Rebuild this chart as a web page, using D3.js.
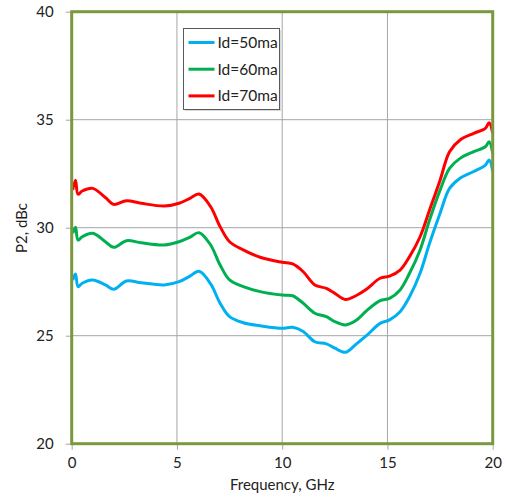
<!DOCTYPE html>
<html>
<head>
<meta charset="utf-8">
<script src="https://cdn.jsdelivr.net/npm/d3@7"></script>
<style>
  body { margin: 0; background: #fff; }
  svg { display: block; font-family: Lato, "Open Sans", sans-serif; }
</style>
</head>
<body>
<main></main>
<script>
"use strict";

// Values
const freq = [0.05, 0.18, 0.3, 0.5, 1.0, 1.6, 2.0, 2.6, 3.3, 4.4, 5.1, 5.6, 6.05, 6.6, 7.05, 7.5, 8.15, 8.95, 10.0, 10.5,
  11.0, 11.55, 12.1, 12.5, 13.0, 13.5, 14.0, 14.65, 15.1, 15.6, 16.05, 16.55, 17.0, 17.5, 17.95, 18.45, 19.1, 19.65, 19.83, 20.0];

const id50 = [27.58, 27.86, 27.27, 27.43, 27.58, 27.35, 27.15, 27.53, 27.45, 27.35, 27.5, 27.75, 27.98, 27.4, 26.5, 25.88, 25.6, 25.46, 25.34, 25.39,
  25.19, 24.72, 24.62, 24.42, 24.23, 24.6, 25.0, 25.57, 25.73, 26.11, 26.8, 27.89, 29.28, 30.67, 31.82, 32.29, 32.6, 32.9, 33.13, 32.6];

const id60 = [29.74, 30.02, 29.43, 29.58, 29.74, 29.35, 29.09, 29.4, 29.3, 29.2, 29.35, 29.55, 29.77, 29.2, 28.27, 27.58, 27.27, 27.04, 26.88, 26.85,
  26.5, 26.04, 25.88, 25.65, 25.5, 25.7, 26.15, 26.62, 26.73, 27.12, 27.89, 28.97, 30.36, 31.74, 32.75, 33.21, 33.52, 33.75, 33.98, 33.44];

const id70 = [31.75, 32.2, 31.55, 31.7, 31.82, 31.4, 31.08, 31.25, 31.13, 31.0, 31.13, 31.35, 31.56, 30.97, 30.05, 29.35, 28.97, 28.63, 28.4, 28.32,
  27.96, 27.35, 27.19, 26.96, 26.68, 26.85, 27.15, 27.66, 27.76, 28.04, 28.66, 29.58, 30.82, 32.2, 33.52, 34.06, 34.37, 34.6, 34.86, 34.37];

const seriesNames = ["Id=50ma", "Id=60ma", "Id=70ma"];
const seriesColors = ["#00B0F0", "#00B050", "#FF0000"];
const xTicks = [0, 5, 10, 15, 20];
const yTicks = [20, 25, 30, 35, 40];

const w = 506;
const h = 503;
const margin = { top: 11.7, right: 13.3, bottom: 59.3, left: 71.7 };
const iw = w - margin.left - margin.right;
const ih = h - margin.top - margin.bottom;

const svg = d3.select("main").append("svg").attr("width", w).attr("height", h);
const g = svg.append("g").attr("transform", `translate(${margin.left}, ${margin.top})`);

const x = d3.scaleLinear().domain([0, 20]).range([0, iw]);
const y = d3.scaleLinear().domain([20, 40]).range([ih, 0]);

//Gridlines
g.append("g")
  .selectAll("line.vx")
  .data(xTicks.slice(1, -1))
  .join("line")
  .attr("x1", (d) => x(d)).attr("x2", (d) => x(d))
  .attr("y1", 0).attr("y2", ih)
  .attr("stroke", "#A6A6A6").attr("stroke-width", 1);

g.append("g")
  .selectAll("line.hy")
  .data(yTicks.slice(1, -1))
  .join("line")
  .attr("x1", 0).attr("x2", iw)
  .attr("y1", (d) => y(d)).attr("y2", (d) => y(d))
  .attr("stroke", "#A6A6A6").attr("stroke-width", 1);

//Axes
const xAxis = d3.axisBottom(x).tickValues(xTicks).tickSize(6).tickPadding(8);
const yAxis = d3.axisLeft(y).tickValues(yTicks).tickSize(6).tickPadding(12);

const styleAxis = (a) => {
  a.select(".domain").remove();
  a.selectAll(".tick line").attr("stroke", "#A6A6A6");
  a.selectAll(".tick text").attr("fill", "#222").style("font-size", "15px").style("font-family", "Lato, sans-serif");
};

g.append("g").attr("transform", `translate(0, ${ih})`).call(xAxis).call(styleAxis);
g.append("g").call(yAxis).call(styleAxis);

//Lines
const line = d3.line()
  .x((d) => x(d[0]))
  .y((d) => y(d[1]))
  .curve(d3.curveCatmullRom.alpha(0.5));

[id50, id60, id70].forEach((vals, i) => {
  g.append("path")
    .datum(freq.map((f, j) => [f, vals[j]]))
    .attr("fill", "none")
    .attr("stroke", seriesColors[i])
    .attr("stroke-width", 3)
    .attr("stroke-linejoin", "round")
    .attr("d", line);
});

//Plot border
g.append("rect")
  .attr("x", 0).attr("y", 0).attr("width", iw).attr("height", ih)
  .attr("fill", "none").attr("stroke", "#7A983E").attr("stroke-width", 3);

//Legend
const legend = svg.append("g").attr("transform", "translate(183.5, 28.5)");
legend.append("rect").attr("x", 1.5).attr("y", 1.5).attr("width", 96).attr("height", 81).attr("fill", "#D9D9D9");
legend.append("rect").attr("width", 96).attr("height", 81).attr("fill", "#fff").attr("stroke", "#595959").attr("stroke-width", 1);

const entries = legend.selectAll("g.entry")
  .data(seriesNames)
  .join("g")
  .attr("transform", (d, i) => `translate(0, ${14 + i * 26.7})`);

entries.append("line")
  .attr("x1", 5).attr("x2", 31)
  .attr("stroke", (d, i) => seriesColors[i])
  .attr("stroke-width", 3);

entries.append("text")
  .attr("x", 34).attr("dy", "0.35em")
  .attr("fill", "#222")
  .style("font-size", "15.5px")
  .text((d) => d);

//Axis titles
svg.append("text")
  .attr("x", margin.left + iw / 2).attr("y", 490)
  .attr("text-anchor", "middle")
  .attr("fill", "#222")
  .style("font-size", "15px")
  .text("Frequency, GHz");

svg.append("text")
  .attr("transform", "translate(27, 228) rotate(-90)")
  .attr("text-anchor", "middle")
  .attr("fill", "#222")
  .style("font-size", "15px")
  .text("P2, dBc");
</script>
</body>
</html>
